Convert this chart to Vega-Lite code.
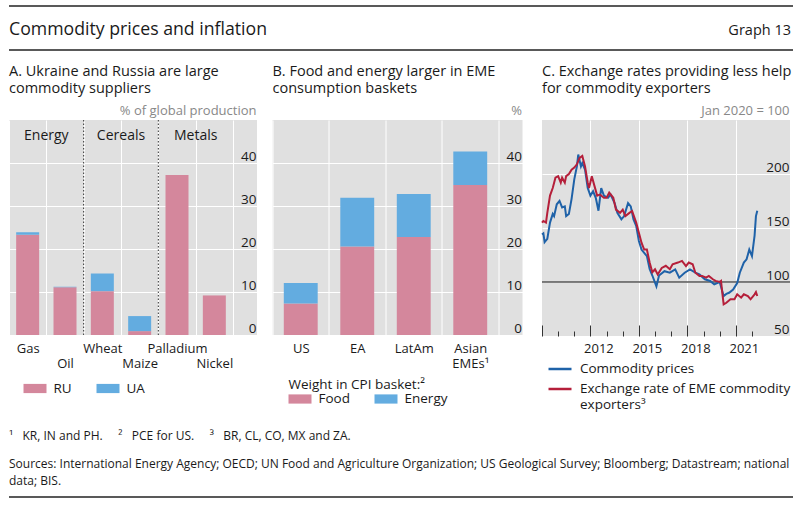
{
  "$schema": "https://vega.github.io/schema/vega-lite/v6.json",
  "padding": {"left": 8, "top": 5, "right": 8, "bottom": 0},
  "background": "white",
  "spacing": 12,
  "config": {
    "font": "Open Sans",
    "view": {"stroke": null},
    "axis": {"labelFont": "Open Sans", "titleFont": "Open Sans", "labelColor": "#1a1a1a", "domain": false, "ticks": false, "gridColor": "#ffffff", "gridWidth": 1.2, "gridOpacity": 1, "labelFontSize": 13.5, "zindex": 0},
    "legend": {"labelFont": "Open Sans", "titleFont": "Open Sans", "labelFontSize": 13.5, "labelColor": "#1a1a1a", "padding": 0, "labelOffset": 7, "symbolOpacity": 1, "symbolStrokeWidth": 0, "titleFontWeight": "normal", "titleFontSize": 13.5, "titleColor": "#1a1a1a", "labelLimit": 300},
    "title": {"font": "Open Sans", "fontSize": 14.5, "fontWeight": "normal", "anchor": "start", "frame": "group", "color": "#1a1a1a", "lineHeight": 17, "offset": 8}
  },
  "vconcat": [
    {
      "width": 784,
      "height": 44,
      "data": {"values": [{}]},
      "layer": [
        {"mark": {"type": "rule", "color": "#222222", "strokeWidth": 1.5}, "encoding": {"y": {"datum": 1, "type": "quantitative", "scale": {"domain": [0, 1]}, "axis": null}}},
        {"mark": {"type": "rule", "color": "#222222", "strokeWidth": 1.5}, "encoding": {"y": {"datum": 0, "type": "quantitative", "scale": {"domain": [0, 1]}, "axis": null}}},
        {"mark": {"type": "text", "align": "left", "baseline": "middle", "fontSize": 17.7, "color": "#1a1a1a"}, "encoding": {"x": {"datum": 0, "type": "quantitative", "scale": {"domain": [0, 1]}, "axis": null}, "y": {"datum": 0.45, "type": "quantitative", "scale": {"domain": [0, 1]}, "axis": null}, "text": {"value": "Commodity prices and inflation"}}},
        {"mark": {"type": "text", "align": "right", "baseline": "middle", "fontSize": 14.5, "color": "#1a1a1a", "dx": -2}, "encoding": {"x": {"datum": 1, "type": "quantitative", "scale": {"domain": [0, 1]}, "axis": null}, "y": {"datum": 0.43, "type": "quantitative", "scale": {"domain": [0, 1]}, "axis": null}, "text": {"value": "Graph 13"}}}
      ]
    },
    {
      "hconcat": [
        {
          "width": 248,
          "height": 215,
          "view": {"fill": "#e0e0e0", "stroke": null},
          "title": {"text": ["A. Ukraine and Russia are large", "commodity suppliers"]},
          "layer": [
            {
              "data": {"values": [
                {"commodity": "Gas", "country": "RU", "share": 23.3},
                {"commodity": "Gas", "country": "UA", "share": 0.6},
                {"commodity": "Oil", "country": "RU", "share": 11.1},
                {"commodity": "Oil", "country": "UA", "share": 0.15},
                {"commodity": "Wheat", "country": "RU", "share": 10.2},
                {"commodity": "Wheat", "country": "UA", "share": 4.1},
                {"commodity": "Maize", "country": "RU", "share": 0.9},
                {"commodity": "Maize", "country": "UA", "share": 3.5},
                {"commodity": "Palladium", "country": "RU", "share": 37.2},
                {"commodity": "Palladium", "country": "UA", "share": 0},
                {"commodity": "Nickel", "country": "RU", "share": 9.2},
                {"commodity": "Nickel", "country": "UA", "share": 0}
              ]},
              "mark": {"type": "bar", "width": {"band": 0.616}},
              "encoding": {
                "x": {"field": "commodity", "type": "nominal", "scale": {"domain": ["Gas", "Oil", "Wheat", "Maize", "Palladium", "Nickel"], "paddingInner": 0, "paddingOuter": 0.3215, "align": 0},
                  "axis": {"title": null, "labelAngle": 0, "labelFontSize": 13, "labelPadding": 7, "tickBand": "extent", "grid": true, "gridColor": "#ffffff", "gridWidth": 1, "zindex": 0, "labelBaseline": "top", "labelLineHeight": 15,
                    "labelExpr": "indexof(['Oil','Maize','Nickel'], datum.value) >= 0 ? ['', datum.value] : datum.value"}},
                "y": {"field": "share", "type": "quantitative", "stack": "zero", "scale": {"domain": [0, 50]},
                  "axis": {"orient": "right", "title": "% of global production", "values": [0, 10, 20, 30, 40], "grid": true, "gridColor": "#ffffff", "zindex": 0, "labelAlign": "right", "labelPadding": -1, "labelBaseline": "alphabetic", "labelOffset": -3,
                    "titleAngle": 0, "titleAlign": "right", "titleBaseline": "bottom", "titleX": -1, "titleY": -3, "titleFontSize": 13, "titleColor": "#888888", "titleFontWeight": "normal"}},
                "color": {"field": "country", "type": "nominal", "scale": {"domain": ["RU", "UA"], "range": ["#d4879c", "#63ace0"]},
                  "legend": {"title": null, "orient": "none", "legendX": 14.5, "legendY": 257, "direction": "horizontal", "symbolType": "M-1,-0.4H1V0.4H-1Z", "symbolSize": 529, "columnPadding": 24}},
                "order": {"field": "country", "sort": "ascending"}
              }
            },
            {
              "data": {"values": [{"after": "Oil"}, {"after": "Maize"}]},
              "mark": {"type": "rule", "color": "#333333", "strokeWidth": 1, "strokeDash": [1.5, 2]},
              "encoding": {"x": {"field": "after", "type": "nominal", "bandPosition": 1}}
            },
            {
              "data": {"values": [{"group": "Energy", "at": "Gas"}, {"group": "Cereals", "at": "Wheat"}, {"group": "Metals", "at": "Palladium"}]},
              "mark": {"type": "text", "fontSize": 14, "baseline": "middle", "color": "#1a1a1a"},
              "encoding": {"x": {"field": "at", "type": "nominal", "bandPosition": 1}, "y": {"datum": 46.3, "type": "quantitative"}, "text": {"field": "group"}}
            }
          ]
        },
        {
          "width": 250,
          "height": 215,
          "view": {"fill": "#e0e0e0", "stroke": null},
          "title": {"text": ["B. Food and energy larger in EME", "consumption baskets"]},
          "data": {"values": [
            {"region": "US", "component": "Food", "weight": 7.3},
            {"region": "US", "component": "Energy", "weight": 4.8},
            {"region": "EA", "component": "Food", "weight": 20.6},
            {"region": "EA", "component": "Energy", "weight": 11.3},
            {"region": "LatAm", "component": "Food", "weight": 22.8},
            {"region": "LatAm", "component": "Energy", "weight": 10.0},
            {"region": "Asian EMEs¹", "component": "Food", "weight": 34.9},
            {"region": "Asian EMEs¹", "component": "Energy", "weight": 7.8}
          ]},
          "mark": {"type": "bar", "width": {"band": 0.6}},
          "encoding": {
            "x": {"field": "region", "type": "nominal", "scale": {"domain": ["US", "EA", "LatAm", "Asian EMEs¹"], "paddingInner": 0, "paddingOuter": 0.2124, "align": 0},
              "axis": {"title": null, "labelAngle": 0, "labelFontSize": 13, "labelPadding": 7, "tickBand": "extent", "grid": true, "gridColor": "#ffffff", "gridWidth": 1, "zindex": 0, "labelBaseline": "top", "labelLineHeight": 15,
                "labelExpr": "datum.value == 'Asian EMEs¹' ? ['Asian', 'EMEs¹'] : datum.value"}},
            "y": {"field": "weight", "type": "quantitative", "stack": "zero", "scale": {"domain": [0, 50]},
              "axis": {"orient": "right", "title": "%", "values": [0, 10, 20, 30, 40], "grid": true, "gridColor": "#ffffff", "zindex": 0, "labelAlign": "right", "labelPadding": -1, "labelBaseline": "alphabetic", "labelOffset": -3,
                "titleAngle": 0, "titleAlign": "right", "titleBaseline": "bottom", "titleX": -1, "titleY": -3, "titleFontSize": 13, "titleColor": "#888888", "titleFontWeight": "normal"}},
            "color": {"field": "component", "type": "nominal", "scale": {"domain": ["Food", "Energy"], "range": ["#d4879c", "#63ace0"]},
              "legend": {"title": "Weight in CPI basket:²", "orient": "none", "legendX": 16, "legendY": 258, "direction": "horizontal", "symbolType": "M-1,-0.4H1V0.4H-1Z", "symbolSize": 529, "columnPadding": 24, "titlePadding": -4}},
            "order": {"field": "component", "sort": "descending"}
          }
        },
        {
          "width": 248,
          "height": 216,
          "view": {"fill": "#e0e0e0", "stroke": null},
          "title": {"text": ["C. Exchange rates providing less help", "for commodity exporters"]},
          "layer": [
            {
              "data": {"values": [{}]},
              "mark": {"type": "rule", "color": "#555555", "strokeWidth": 1.5},
              "encoding": {"y": {"datum": 100, "type": "quantitative", "scale": {"domain": [50, 250], "zero": false, "nice": false}}}
            },
            {
              "data": {"values": [
                {"date": "2009-01-01", "series": "Commodity prices", "value": 144},
                {"date": "2009-02-01", "series": "Commodity prices", "value": 145},
                {"date": "2009-03-01", "series": "Commodity prices", "value": 137},
                {"date": "2009-05-01", "series": "Commodity prices", "value": 140},
                {"date": "2009-07-01", "series": "Commodity prices", "value": 155},
                {"date": "2009-09-01", "series": "Commodity prices", "value": 163},
                {"date": "2009-10-01", "series": "Commodity prices", "value": 161},
                {"date": "2009-12-01", "series": "Commodity prices", "value": 172},
                {"date": "2010-02-01", "series": "Commodity prices", "value": 175},
                {"date": "2010-04-01", "series": "Commodity prices", "value": 169},
                {"date": "2010-06-01", "series": "Commodity prices", "value": 170},
                {"date": "2010-07-01", "series": "Commodity prices", "value": 161},
                {"date": "2010-09-01", "series": "Commodity prices", "value": 163},
                {"date": "2010-11-01", "series": "Commodity prices", "value": 177},
                {"date": "2011-01-01", "series": "Commodity prices", "value": 195},
                {"date": "2011-03-01", "series": "Commodity prices", "value": 207},
                {"date": "2011-04-01", "series": "Commodity prices", "value": 218},
                {"date": "2011-06-01", "series": "Commodity prices", "value": 207},
                {"date": "2011-07-01", "series": "Commodity prices", "value": 210},
                {"date": "2011-09-01", "series": "Commodity prices", "value": 204},
                {"date": "2011-11-01", "series": "Commodity prices", "value": 187},
                {"date": "2012-01-01", "series": "Commodity prices", "value": 180},
                {"date": "2012-03-01", "series": "Commodity prices", "value": 184},
                {"date": "2012-05-01", "series": "Commodity prices", "value": 178},
                {"date": "2012-07-01", "series": "Commodity prices", "value": 166},
                {"date": "2012-09-01", "series": "Commodity prices", "value": 187},
                {"date": "2012-11-01", "series": "Commodity prices", "value": 180},
                {"date": "2013-02-01", "series": "Commodity prices", "value": 178},
                {"date": "2013-04-01", "series": "Commodity prices", "value": 181},
                {"date": "2013-07-01", "series": "Commodity prices", "value": 173},
                {"date": "2013-09-01", "series": "Commodity prices", "value": 164},
                {"date": "2013-12-01", "series": "Commodity prices", "value": 158},
                {"date": "2014-02-01", "series": "Commodity prices", "value": 161},
                {"date": "2014-05-01", "series": "Commodity prices", "value": 173},
                {"date": "2014-07-01", "series": "Commodity prices", "value": 170},
                {"date": "2014-09-01", "series": "Commodity prices", "value": 158},
                {"date": "2014-11-01", "series": "Commodity prices", "value": 152},
                {"date": "2015-01-01", "series": "Commodity prices", "value": 138},
                {"date": "2015-03-01", "series": "Commodity prices", "value": 130},
                {"date": "2015-05-01", "series": "Commodity prices", "value": 127},
                {"date": "2015-07-01", "series": "Commodity prices", "value": 124},
                {"date": "2015-09-01", "series": "Commodity prices", "value": 112},
                {"date": "2015-11-01", "series": "Commodity prices", "value": 106},
                {"date": "2016-02-01", "series": "Commodity prices", "value": 96},
                {"date": "2016-04-01", "series": "Commodity prices", "value": 106},
                {"date": "2016-08-01", "series": "Commodity prices", "value": 110},
                {"date": "2016-12-01", "series": "Commodity prices", "value": 108.6},
                {"date": "2017-04-01", "series": "Commodity prices", "value": 111.7},
                {"date": "2017-07-01", "series": "Commodity prices", "value": 104},
                {"date": "2017-11-01", "series": "Commodity prices", "value": 108.6},
                {"date": "2018-03-01", "series": "Commodity prices", "value": 111.7},
                {"date": "2018-07-01", "series": "Commodity prices", "value": 108.6},
                {"date": "2018-10-01", "series": "Commodity prices", "value": 107},
                {"date": "2019-02-01", "series": "Commodity prices", "value": 102.5},
                {"date": "2019-06-01", "series": "Commodity prices", "value": 101},
                {"date": "2019-09-01", "series": "Commodity prices", "value": 97.8},
                {"date": "2020-01-01", "series": "Commodity prices", "value": 100},
                {"date": "2020-04-01", "series": "Commodity prices", "value": 87},
                {"date": "2020-06-01", "series": "Commodity prices", "value": 89},
                {"date": "2020-08-01", "series": "Commodity prices", "value": 90},
                {"date": "2020-11-01", "series": "Commodity prices", "value": 93},
                {"date": "2021-02-01", "series": "Commodity prices", "value": 99},
                {"date": "2021-04-01", "series": "Commodity prices", "value": 108.6},
                {"date": "2021-07-01", "series": "Commodity prices", "value": 118},
                {"date": "2021-09-01", "series": "Commodity prices", "value": 121},
                {"date": "2021-11-01", "series": "Commodity prices", "value": 130},
                {"date": "2022-01-01", "series": "Commodity prices", "value": 124},
                {"date": "2022-03-01", "series": "Commodity prices", "value": 143},
                {"date": "2022-04-01", "series": "Commodity prices", "value": 161},
                {"date": "2022-05-01", "series": "Commodity prices", "value": 166},
                {"date": "2009-01-01", "series": "Exchange rate of EME commodity exporters³", "value": 155},
                {"date": "2009-02-01", "series": "Exchange rate of EME commodity exporters³", "value": 156.5},
                {"date": "2009-04-01", "series": "Exchange rate of EME commodity exporters³", "value": 155},
                {"date": "2009-05-01", "series": "Exchange rate of EME commodity exporters³", "value": 164},
                {"date": "2009-07-01", "series": "Exchange rate of EME commodity exporters³", "value": 180},
                {"date": "2009-09-01", "series": "Exchange rate of EME commodity exporters³", "value": 187},
                {"date": "2009-11-01", "series": "Exchange rate of EME commodity exporters³", "value": 196.6},
                {"date": "2010-01-01", "series": "Exchange rate of EME commodity exporters³", "value": 198},
                {"date": "2010-03-01", "series": "Exchange rate of EME commodity exporters³", "value": 192},
                {"date": "2010-04-01", "series": "Exchange rate of EME commodity exporters³", "value": 196.6},
                {"date": "2010-06-01", "series": "Exchange rate of EME commodity exporters³", "value": 192},
                {"date": "2010-07-01", "series": "Exchange rate of EME commodity exporters³", "value": 198},
                {"date": "2010-09-01", "series": "Exchange rate of EME commodity exporters³", "value": 200},
                {"date": "2010-11-01", "series": "Exchange rate of EME commodity exporters³", "value": 204},
                {"date": "2011-01-01", "series": "Exchange rate of EME commodity exporters³", "value": 206},
                {"date": "2011-03-01", "series": "Exchange rate of EME commodity exporters³", "value": 209},
                {"date": "2011-05-01", "series": "Exchange rate of EME commodity exporters³", "value": 215},
                {"date": "2011-07-01", "series": "Exchange rate of EME commodity exporters³", "value": 216.7},
                {"date": "2011-09-01", "series": "Exchange rate of EME commodity exporters³", "value": 207},
                {"date": "2011-11-01", "series": "Exchange rate of EME commodity exporters³", "value": 192},
                {"date": "2011-12-01", "series": "Exchange rate of EME commodity exporters³", "value": 187},
                {"date": "2012-02-01", "series": "Exchange rate of EME commodity exporters³", "value": 198},
                {"date": "2012-04-01", "series": "Exchange rate of EME commodity exporters³", "value": 189},
                {"date": "2012-06-01", "series": "Exchange rate of EME commodity exporters³", "value": 180},
                {"date": "2012-08-01", "series": "Exchange rate of EME commodity exporters³", "value": 181},
                {"date": "2012-11-01", "series": "Exchange rate of EME commodity exporters³", "value": 178},
                {"date": "2013-01-01", "series": "Exchange rate of EME commodity exporters³", "value": 178},
                {"date": "2013-03-01", "series": "Exchange rate of EME commodity exporters³", "value": 182.7},
                {"date": "2013-06-01", "series": "Exchange rate of EME commodity exporters³", "value": 178},
                {"date": "2013-08-01", "series": "Exchange rate of EME commodity exporters³", "value": 167},
                {"date": "2013-11-01", "series": "Exchange rate of EME commodity exporters³", "value": 164},
                {"date": "2014-01-01", "series": "Exchange rate of EME commodity exporters³", "value": 167},
                {"date": "2014-03-01", "series": "Exchange rate of EME commodity exporters³", "value": 161},
                {"date": "2014-06-01", "series": "Exchange rate of EME commodity exporters³", "value": 164},
                {"date": "2014-08-01", "series": "Exchange rate of EME commodity exporters³", "value": 165.7},
                {"date": "2014-11-01", "series": "Exchange rate of EME commodity exporters³", "value": 155},
                {"date": "2015-01-01", "series": "Exchange rate of EME commodity exporters³", "value": 145.6},
                {"date": "2015-03-01", "series": "Exchange rate of EME commodity exporters³", "value": 136.4},
                {"date": "2015-05-01", "series": "Exchange rate of EME commodity exporters³", "value": 130},
                {"date": "2015-07-01", "series": "Exchange rate of EME commodity exporters³", "value": 130},
                {"date": "2015-09-01", "series": "Exchange rate of EME commodity exporters³", "value": 118},
                {"date": "2015-11-01", "series": "Exchange rate of EME commodity exporters³", "value": 109},
                {"date": "2016-01-01", "series": "Exchange rate of EME commodity exporters³", "value": 111.8},
                {"date": "2016-03-01", "series": "Exchange rate of EME commodity exporters³", "value": 107},
                {"date": "2016-06-01", "series": "Exchange rate of EME commodity exporters³", "value": 113},
                {"date": "2016-09-01", "series": "Exchange rate of EME commodity exporters³", "value": 115},
                {"date": "2016-12-01", "series": "Exchange rate of EME commodity exporters³", "value": 111.8},
                {"date": "2017-02-01", "series": "Exchange rate of EME commodity exporters³", "value": 116.4},
                {"date": "2017-06-01", "series": "Exchange rate of EME commodity exporters³", "value": 118},
                {"date": "2017-09-01", "series": "Exchange rate of EME commodity exporters³", "value": 119.5},
                {"date": "2017-12-01", "series": "Exchange rate of EME commodity exporters³", "value": 114.8},
                {"date": "2018-02-01", "series": "Exchange rate of EME commodity exporters³", "value": 118},
                {"date": "2018-05-01", "series": "Exchange rate of EME commodity exporters³", "value": 116.4},
                {"date": "2018-07-01", "series": "Exchange rate of EME commodity exporters³", "value": 108.6},
                {"date": "2018-10-01", "series": "Exchange rate of EME commodity exporters³", "value": 105.6},
                {"date": "2018-12-01", "series": "Exchange rate of EME commodity exporters³", "value": 105.6},
                {"date": "2019-03-01", "series": "Exchange rate of EME commodity exporters³", "value": 104},
                {"date": "2019-05-01", "series": "Exchange rate of EME commodity exporters³", "value": 105.6},
                {"date": "2019-08-01", "series": "Exchange rate of EME commodity exporters³", "value": 102.5},
                {"date": "2019-10-01", "series": "Exchange rate of EME commodity exporters³", "value": 101},
                {"date": "2020-01-01", "series": "Exchange rate of EME commodity exporters³", "value": 100},
                {"date": "2020-02-01", "series": "Exchange rate of EME commodity exporters³", "value": 101},
                {"date": "2020-03-01", "series": "Exchange rate of EME commodity exporters³", "value": 90},
                {"date": "2020-04-01", "series": "Exchange rate of EME commodity exporters³", "value": 79.3},
                {"date": "2020-06-01", "series": "Exchange rate of EME commodity exporters³", "value": 80.8},
                {"date": "2020-09-01", "series": "Exchange rate of EME commodity exporters³", "value": 84},
                {"date": "2020-12-01", "series": "Exchange rate of EME commodity exporters³", "value": 84},
                {"date": "2021-02-01", "series": "Exchange rate of EME commodity exporters³", "value": 88.6},
                {"date": "2021-05-01", "series": "Exchange rate of EME commodity exporters³", "value": 85.5},
                {"date": "2021-07-01", "series": "Exchange rate of EME commodity exporters³", "value": 88.6},
                {"date": "2021-10-01", "series": "Exchange rate of EME commodity exporters³", "value": 87},
                {"date": "2021-12-01", "series": "Exchange rate of EME commodity exporters³", "value": 84},
                {"date": "2022-03-01", "series": "Exchange rate of EME commodity exporters³", "value": 88.6},
                {"date": "2022-04-01", "series": "Exchange rate of EME commodity exporters³", "value": 90.7},
                {"date": "2022-05-01", "series": "Exchange rate of EME commodity exporters³", "value": 87}
              ]},
              "mark": {"type": "line", "strokeWidth": 2, "interpolate": "linear"},
              "encoding": {
                "x": {"field": "date", "type": "temporal", "scale": {"domain": [{"year": 2009, "month": 1, "date": 1}, {"year": 2024, "month": 5, "date": 10}]},
                  "axis": {"title": null, "grid": true, "gridColor": "#ffffff", "gridWidth": 1, "zindex": 0, "ticks": true, "tickColor": "#333333", "tickWidth": 1,
                    "values": [{"year": 2009, "month": 1, "date": 1}, {"year": 2010, "month": 1, "date": 1}, {"year": 2011, "month": 1, "date": 1}, {"year": 2012, "month": 1, "date": 1}, {"year": 2013, "month": 1, "date": 1}, {"year": 2014, "month": 1, "date": 1}, {"year": 2015, "month": 1, "date": 1}, {"year": 2016, "month": 1, "date": 1}, {"year": 2017, "month": 1, "date": 1}, {"year": 2018, "month": 1, "date": 1}, {"year": 2019, "month": 1, "date": 1}, {"year": 2020, "month": 1, "date": 1}, {"year": 2021, "month": 1, "date": 1}, {"year": 2022, "month": 1, "date": 1}],
                    "tickSize": {"condition": {"test": "(year(datum.value) - 2009) % 3 == 0", "value": -11}, "value": -5},
                    "gridOpacity": {"condition": {"test": "(year(datum.value) - 2009) % 3 == 0 && year(datum.value) > 2009", "value": 1}, "value": 0},
                    "labelExpr": "(year(datum.value) - 2009) % 3 == 0 && year(datum.value) > 2009 ? timeFormat(datum.value, '%Y') : ''",
                    "labelOffset": 8, "labelPadding": 17, "labelFontSize": 13, "labelBaseline": "top"}},
                "y": {"field": "value", "type": "quantitative", "scale": {"domain": [50, 250], "zero": false, "nice": false},
                  "axis": {"orient": "right", "title": "Jan 2020 = 100", "values": [50, 100, 150, 200], "grid": true, "gridColor": "#ffffff", "zindex": 0, "labelAlign": "right", "labelPadding": -1, "labelBaseline": "alphabetic", "labelOffset": -3,
                    "titleAngle": 0, "titleAlign": "right", "titleBaseline": "bottom", "titleX": -1, "titleY": -3, "titleFontSize": 13, "titleColor": "#888888", "titleFontWeight": "normal"}},
                "color": {"field": "series", "type": "nominal", "scale": {"domain": ["Commodity prices", "Exchange rate of EME commodity exporters³"], "range": ["#1f62a8", "#b51f3a"]},
                  "legend": {"title": null, "orient": "none", "legendX": 5, "legendY": 236, "direction": "vertical", "symbolType": "stroke", "symbolSize": 529, "symbolStrokeWidth": 2.5, "rowPadding": -2,
                    "labelExpr": "datum.label == 'Commodity prices' ? datum.label : ['Exchange rate of EME commodity', 'exporters³']"}}
              }
            }
          ]
        }
      ],
      "spacing": 15.5,
      "resolve": {"scale": {"color": "independent", "x": "independent", "y": "independent"}}
    },
    {
      "width": 784,
      "height": 74,
      "data": {"values": [{}]},
      "layer": [
        {"mark": {"type": "rule", "color": "#222222", "strokeWidth": 1.5}, "encoding": {"y": {"datum": 0, "type": "quantitative", "scale": {"domain": [0, 1]}, "axis": null}}},
        {"mark": {"type": "text", "align": "left", "baseline": "middle", "fontSize": 12, "color": "#1a1a1a"}, "encoding": {"x": {"datum": 0, "type": "quantitative", "scale": {"domain": [0, 1]}, "axis": null}, "y": {"datum": 0.824, "type": "quantitative", "scale": {"domain": [0, 1]}, "axis": null}, "text": {"value": "¹\u00a0\u00a0\u00a0KR, IN and PH.\u00a0\u00a0\u00a0\u00a0\u00a0²\u00a0\u00a0\u00a0PCE for US.\u00a0\u00a0\u00a0\u00a0\u00a0³\u00a0\u00a0\u00a0BR, CL, CO, MX and ZA."}}},
        {"mark": {"type": "text", "align": "left", "baseline": "middle", "fontSize": 12, "color": "#1a1a1a"}, "encoding": {"x": {"datum": 0, "type": "quantitative", "scale": {"domain": [0, 1]}, "axis": null}, "y": {"datum": 0.446, "type": "quantitative", "scale": {"domain": [0, 1]}, "axis": null}, "text": {"value": "Sources: International Energy Agency; OECD; UN Food and Agriculture Organization; US Geological Survey; Bloomberg; Datastream; national"}}},
        {"mark": {"type": "text", "align": "left", "baseline": "middle", "fontSize": 12, "color": "#1a1a1a"}, "encoding": {"x": {"datum": 0, "type": "quantitative", "scale": {"domain": [0, 1]}, "axis": null}, "y": {"datum": 0.216, "type": "quantitative", "scale": {"domain": [0, 1]}, "axis": null}, "text": {"value": "data; BIS."}}}
      ]
    }
  ]
}
